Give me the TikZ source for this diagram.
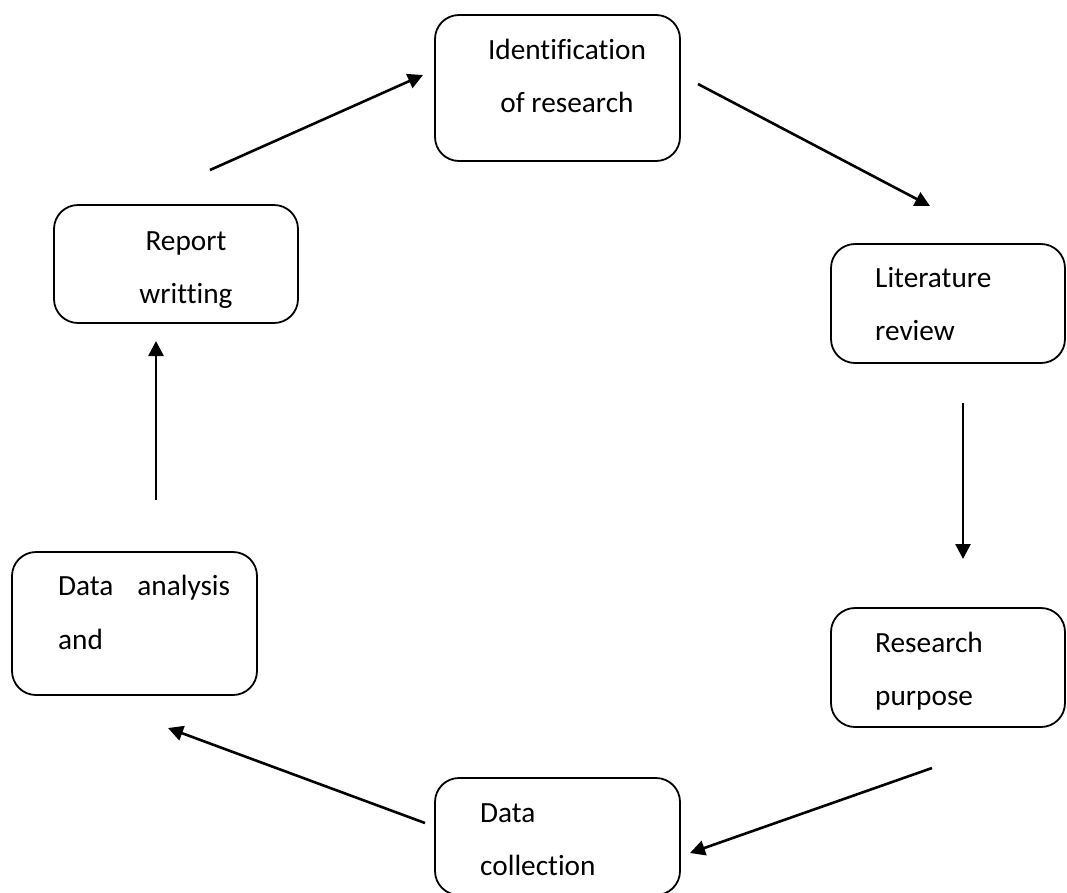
\documentclass[tikz,border=0pt]{standalone}
\usepackage{fontspec}
\setmainfont[Ligatures=NoCommon]{Carlito}
\usetikzlibrary{arrows.meta}

\tikzset{
  stage/.style={draw=black, line width=1.8pt, rounded corners=24pt, inner sep=0pt},
  lbl/.style={font=\fontsize{29.3}{35}\selectfont, inner sep=0pt, anchor=base west},
  clbl/.style={font=\fontsize{29.3}{35}\selectfont, inner sep=0pt, anchor=base},
  flow/.style={line width=2.6pt, -{Triangle[length=15pt,width=15pt]}}
}

\begin{document}
\begin{tikzpicture}[x=1pt, y=-1pt]
  \useasboundingbox (0,0) rectangle (1067,892);

  % stage boxes
  \node[stage, minimum width=245pt, minimum height=146pt] (ident) at (557.5,88) {};
  \node[stage, minimum width=234pt, minimum height=119pt] (lit) at (948,303.5) {};
  \node[stage, minimum width=234pt, minimum height=119pt] (purp) at (948,667.5) {};
  \node[stage, minimum width=245pt, minimum height=117pt] (coll) at (557.5,836.5) {};
  \node[stage, minimum width=245pt, minimum height=143pt] (anal) at (134.5,623.5) {};
  \node[stage, minimum width=244pt, minimum height=118pt] (report) at (176,264) {};

  % stage texts
  \node[clbl] (ident1) at (567,59) {Identification};
  \node[clbl] (ident2) at (567,112) {of research};
  \node[lbl] (lit1) at (875,287) {Literature};
  \node[lbl] (lit2) at (875,340) {review};
  \node[lbl] (purp1) at (875,652) {Research};
  \node[lbl] (purp2) at (875,705) {purpose};
  \node[lbl] (coll1) at (480,822) {Data};
  \node[lbl] (coll2) at (480,875) {collection};
  \node[lbl] (anal1) at (58,595) {\makebox[172pt][l]{Data\hfill analysis}};
  \node[lbl] (anal2) at (58,649) {and};
  \node[clbl] (report1) at (186,250) {Report};
  \node[clbl] (report2) at (186,303) {writting};

  % arrow end points in the gaps between boxes
  \coordinate (a1s) at (210,170);  \coordinate (a1e) at (423,75);
  \coordinate (a2s) at (698,84);   \coordinate (a2e) at (930,206);
  \coordinate (a3s) at (963,403);  \coordinate (a3e) at (963,559);
  \coordinate (a4s) at (932,768);  \coordinate (a4e) at (690,853);
  \coordinate (a5s) at (425,823);  \coordinate (a5e) at (168,728);
  \coordinate (a6s) at (156,500);  \coordinate (a6e) at (156,341);

  % cycle of connectors
  \draw[flow] (a1s) -- (a1e);
  \draw[flow] (a2s) -- (a2e);
  \draw[flow] (a3s) -- (a3e);
  \draw[flow] (a4s) -- (a4e);
  \draw[flow] (a5s) -- (a5e);
  \draw[flow] (a6s) -- (a6e);
\end{tikzpicture}
\end{document}
